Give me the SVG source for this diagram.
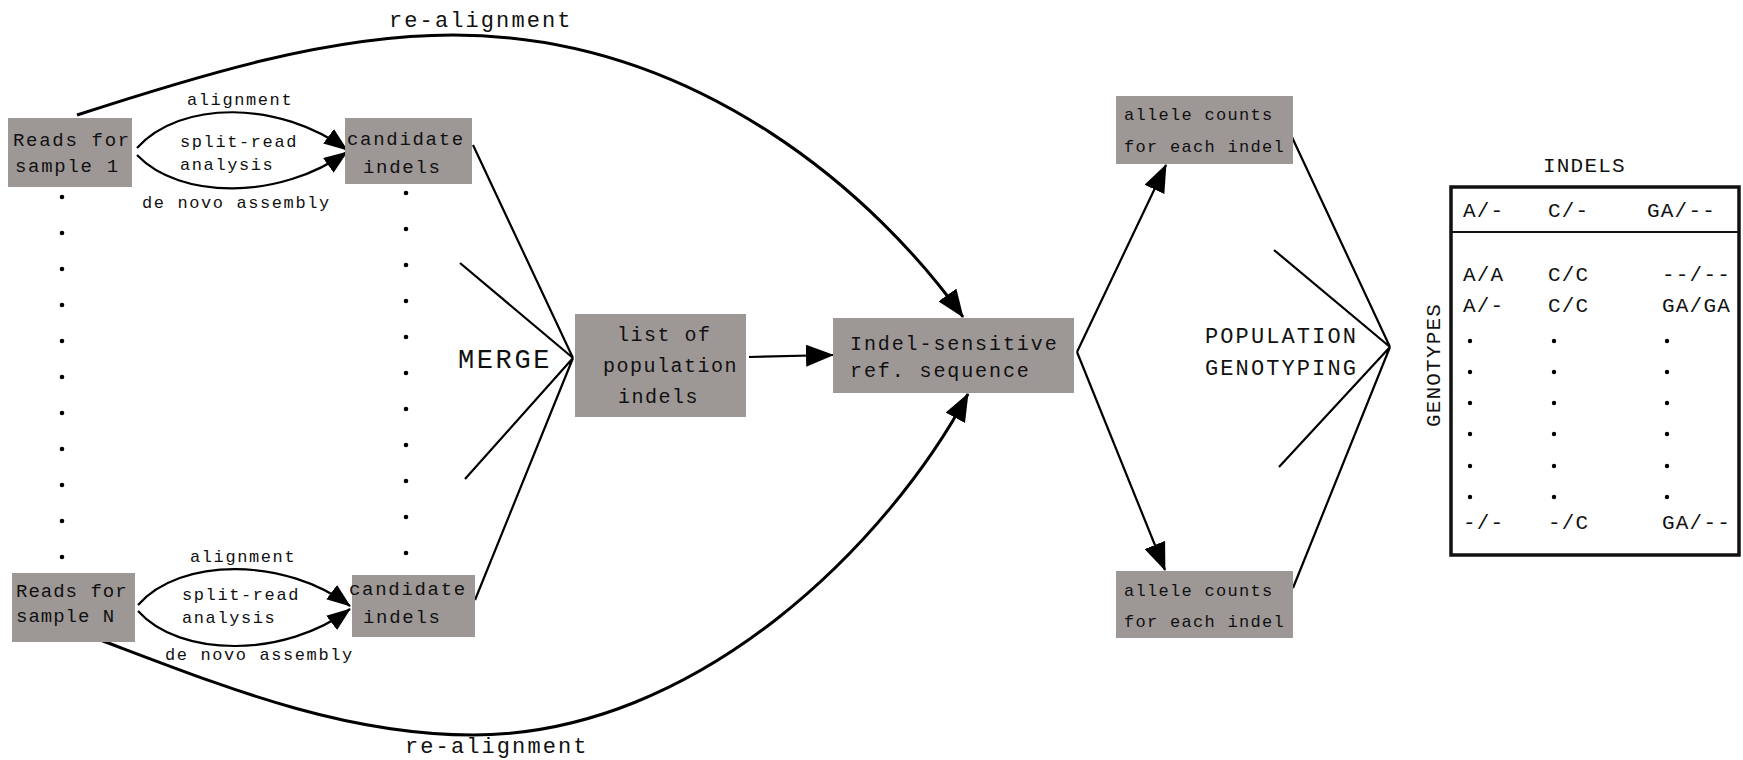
<svg xmlns="http://www.w3.org/2000/svg" width="1743" height="760" viewBox="0 0 1743 760">
<defs>
<marker id="ah" markerUnits="userSpaceOnUse" markerWidth="28" markerHeight="22" refX="27" refY="11" orient="auto"><path d="M0,0 L28,11 L0,22 z" fill="#000"/></marker>
<marker id="ahs" markerUnits="userSpaceOnUse" markerWidth="24" markerHeight="18" refX="23" refY="9" orient="auto"><path d="M0,0 L24,9 L0,18 z" fill="#000"/></marker>
<style>
text{font-family:"Liberation Mono","Courier New",monospace;fill:#111}
.box{fill:#9d9796}
.t-reads{font-size:19px;letter-spacing:1.7px}
.t-lab{font-size:17px;letter-spacing:1.6px}
.t-list{font-size:20px;letter-spacing:1.5px}
.t-ref{font-size:20px;letter-spacing:1.9px}
.t-allele{font-size:17px;letter-spacing:1.3px}
.t-big{font-size:22px;letter-spacing:2.1px}
.t-merge{font-size:27px;letter-spacing:2.6px}
.t-table{font-size:21px;letter-spacing:1.2px}
.ln{fill:none;stroke:#000;stroke-width:2.2}
.lnb{fill:none;stroke:#000;stroke-width:3}
.dot{fill:#000}
</style>
</defs>

<g id="connectors">
<path class="lnb" d="M77,115 C200,75 330,35 453,35 C700,35 880,200 963,317" marker-end="url(#ah)"/>
<path class="lnb" d="M95,638 C220,685 340,735 473,735 C700,735 890,540 968,394" marker-end="url(#ah)"/>
<path class="ln" d="M137,148 C180,100 280,100 347,150" marker-end="url(#ahs)"/>
<path class="ln" d="M137,155 C180,200 280,200 347,152" marker-end="url(#ahs)"/>
<path class="ln" d="M138,605 C180,557 285,557 350,606" marker-end="url(#ahs)"/>
<path class="ln" d="M138,611 C180,658 285,658 350,609" marker-end="url(#ahs)"/>
<path class="ln" d="M473,145 L573,358 M460,263 L573,358 M465,479 L573,358 M475,600 L573,358"/>
<path class="ln" d="M749,357 L833,355" marker-end="url(#ah)"/>
<path class="ln" d="M1077,352 L1166,165" marker-end="url(#ah)"/>
<path class="ln" d="M1077,352 L1165,570" marker-end="url(#ah)"/>
<path class="ln" d="M1291,135 L1390,347 M1274,250 L1390,347 M1279,467 L1390,347 M1293,588 L1390,347"/>
</g>

<g id="labels">
<text class="t-big" x="389" y="27">re-alignment</text>
<text class="t-big" x="405" y="753">re-alignment</text>
<text class="t-lab" x="187" y="105">alignment</text>
<text class="t-lab" x="180" y="147">split-read</text>
<text class="t-lab" x="180" y="170">analysis</text>
<text class="t-lab" x="142" y="208">de novo assembly</text>
<text class="t-lab" x="190" y="562">alignment</text>
<text class="t-lab" x="182" y="600">split-read</text>
<text class="t-lab" x="182" y="623">analysis</text>
<text class="t-lab" x="165" y="660">de novo assembly</text>
<text class="t-merge" x="458" y="368">MERGE</text>
<text class="t-big" x="1205" y="343">POPULATION</text>
<text class="t-big" x="1205" y="375">GENOTYPING</text>
</g>

<g id="dots-left">
<circle class="dot" cx="62" cy="197" r="2.3"/><circle class="dot" cx="62" cy="233" r="2.3"/><circle class="dot" cx="62" cy="269" r="2.3"/><circle class="dot" cx="62" cy="305" r="2.3"/><circle class="dot" cx="62" cy="341" r="2.3"/><circle class="dot" cx="62" cy="377" r="2.3"/><circle class="dot" cx="62" cy="413" r="2.3"/><circle class="dot" cx="62" cy="449" r="2.3"/><circle class="dot" cx="62" cy="485" r="2.3"/><circle class="dot" cx="62" cy="521" r="2.3"/><circle class="dot" cx="62" cy="557" r="2.3"/>
</g>
<g id="dots-right">
<circle class="dot" cx="406" cy="193" r="2.3"/><circle class="dot" cx="406" cy="229" r="2.3"/><circle class="dot" cx="406" cy="265" r="2.3"/><circle class="dot" cx="406" cy="301" r="2.3"/><circle class="dot" cx="406" cy="337" r="2.3"/><circle class="dot" cx="406" cy="373" r="2.3"/><circle class="dot" cx="406" cy="409" r="2.3"/><circle class="dot" cx="406" cy="445" r="2.3"/><circle class="dot" cx="406" cy="481" r="2.3"/><circle class="dot" cx="406" cy="517" r="2.3"/><circle class="dot" cx="406" cy="553" r="2.3"/>
</g>

<g id="reads1">
<rect class="box" x="8" y="118" width="124" height="69"/>
<text class="t-reads" x="13" y="146">Reads for</text>
<text class="t-reads" x="15" y="172">sample 1</text>
</g>
<g id="cand1">
<rect class="box" x="345" y="118" width="127" height="66"/>
<text class="t-reads" x="347" y="145">candidate</text>
<text class="t-reads" x="363" y="173">indels</text>
</g>
<g id="readsN">
<rect class="box" x="12" y="573" width="123" height="69"/>
<text class="t-reads" x="16" y="597" style="letter-spacing:1px">Reads for</text>
<text class="t-reads" x="16" y="622" style="letter-spacing:1px">sample N</text>
</g>
<g id="candN">
<rect class="box" x="352" y="575" width="123" height="62"/>
<text class="t-reads" x="349" y="595">candidate</text>
<text class="t-reads" x="363" y="623">indels</text>
</g>
<g id="poplist">
<rect class="box" x="575" y="314" width="171" height="103"/>
<text class="t-list" x="617" y="341">list of</text>
<text class="t-list" x="603" y="372">population</text>
<text class="t-list" x="618" y="403">indels</text>
</g>
<g id="refseq">
<rect class="box" x="833" y="318" width="241" height="75"/>
<text class="t-ref" x="850" y="350">Indel-sensitive</text>
<text class="t-ref" x="850" y="377">ref. sequence</text>
</g>
<g id="allele1">
<rect class="box" x="1116" y="96" width="177" height="68"/>
<text class="t-allele" x="1124" y="120">allele counts</text>
<text class="t-allele" x="1124" y="152">for each indel</text>
</g>
<g id="allele2">
<rect class="box" x="1116" y="571" width="177" height="67"/>
<text class="t-allele" x="1124" y="596">allele counts</text>
<text class="t-allele" x="1124" y="627">for each indel</text>
</g>

<g id="table">
<text class="t-table" x="1543" y="172">INDELS</text>
<rect x="1451" y="187" width="288" height="368" fill="none" stroke="#111" stroke-width="3.5"/>
<line x1="1451" y1="232" x2="1739" y2="232" stroke="#111" stroke-width="2"/>
<text class="t-table" x="1463" y="217">A/-</text><text class="t-table" x="1548" y="217">C/-</text><text class="t-table" x="1647" y="217">GA/--</text>
<text class="t-table" x="1463" y="281">A/A</text><text class="t-table" x="1548" y="281">C/C</text><text class="t-table" x="1662" y="281">--/--</text>
<text class="t-table" x="1463" y="312">A/-</text><text class="t-table" x="1548" y="312">C/C</text><text class="t-table" x="1662" y="312">GA/GA</text>
<g class="dot">
<circle cx="1470" cy="341" r="2.2"/><circle cx="1554" cy="341" r="2.2"/><circle cx="1667" cy="341" r="2.2"/>
<circle cx="1470" cy="372" r="2.2"/><circle cx="1554" cy="372" r="2.2"/><circle cx="1667" cy="372" r="2.2"/>
<circle cx="1470" cy="403" r="2.2"/><circle cx="1554" cy="403" r="2.2"/><circle cx="1667" cy="403" r="2.2"/>
<circle cx="1470" cy="434" r="2.2"/><circle cx="1554" cy="434" r="2.2"/><circle cx="1667" cy="434" r="2.2"/>
<circle cx="1470" cy="466" r="2.2"/><circle cx="1554" cy="466" r="2.2"/><circle cx="1667" cy="466" r="2.2"/>
<circle cx="1470" cy="497" r="2.2"/><circle cx="1554" cy="497" r="2.2"/><circle cx="1667" cy="497" r="2.2"/>
</g>
<text class="t-table" x="1463" y="529">-/-</text><text class="t-table" x="1548" y="529">-/C</text><text class="t-table" x="1662" y="529">GA/--</text>
<text class="t-table" transform="translate(1440,365) rotate(-90)" text-anchor="middle">GENOTYPES</text>
</g>
</svg>
